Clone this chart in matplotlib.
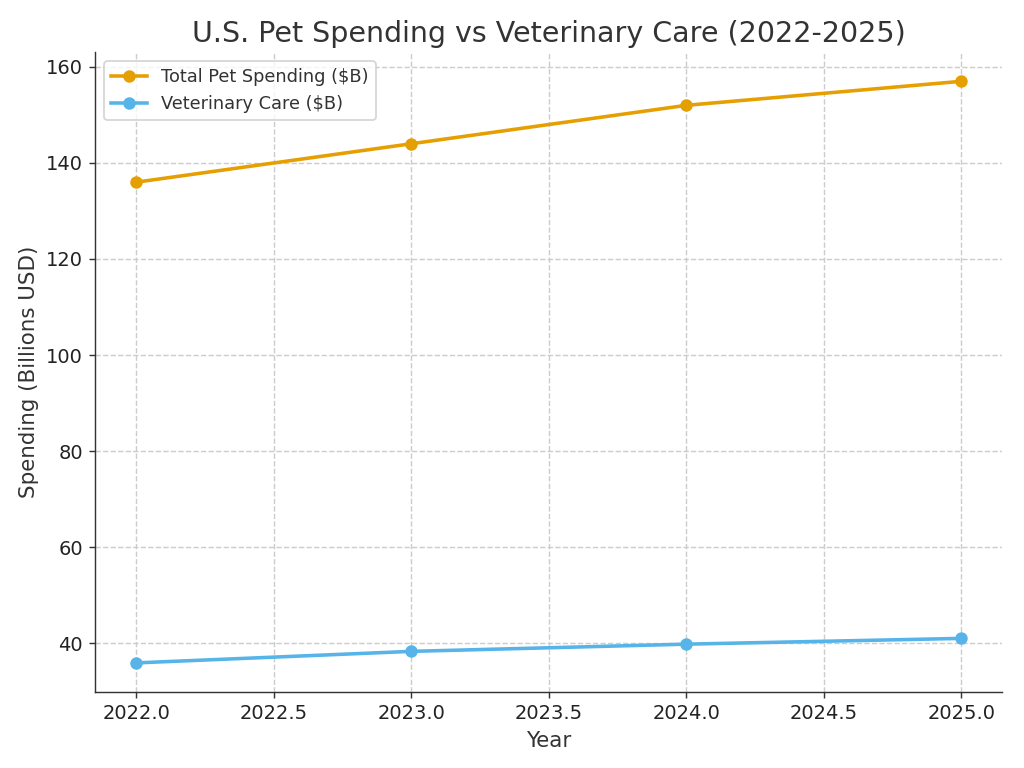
import matplotlib.pyplot as plt

years = [2022, 2023, 2024, 2025]
total_spending = [136, 144, 152, 157]
vet_care = [35.9, 38.3, 39.8, 41.0]

text_color = '#333333'
plt.rcParams['text.color'] = text_color
plt.rcParams['axes.labelcolor'] = text_color
plt.rcParams['axes.edgecolor'] = text_color
plt.rcParams['xtick.color'] = text_color
plt.rcParams['ytick.color'] = text_color

fig, ax = plt.subplots(figsize=(8, 6), dpi=128)
ax.plot(years, total_spending, marker='o', color='#E69F00', linewidth=2,
        label='Total Pet Spending ($B)')
ax.plot(years, vet_care, marker='o', color='#56B4E9', linewidth=2,
        label='Veterinary Care ($B)')

ax.set_title('U.S. Pet Spending vs Veterinary Care (2022-2025)', fontsize=16)
ax.set_xlabel('Year', fontsize=12)
ax.set_ylabel('Spending (Billions USD)', fontsize=12)
ax.tick_params(labelsize=11, labelcolor='#222222')
ax.grid(True, linestyle='--', color='#cccccc', linewidth=0.8)
ax.spines['top'].set_visible(False)
ax.spines['right'].set_visible(False)
ax.legend(loc='upper left', fontsize=10)

fig.subplots_adjust(left=0.093, right=0.979, top=0.932, bottom=0.099)
fig.savefig('out.png', dpi=128)
